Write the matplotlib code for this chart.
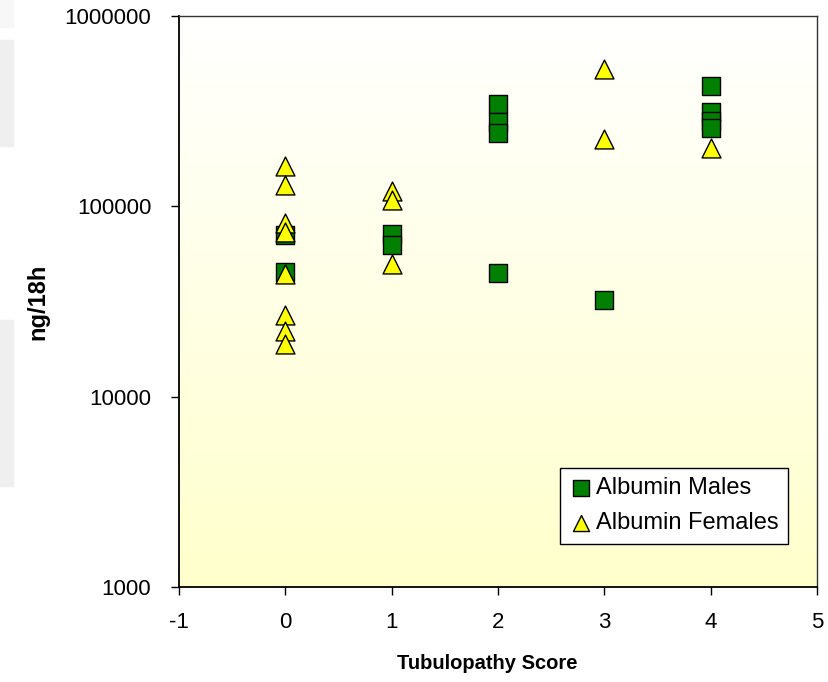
"""Albumin excretion vs tubulopathy score (log scale scatter)."""
import matplotlib
matplotlib.use("Agg")
import matplotlib.pyplot as plt
import numpy as np
from matplotlib import font_manager
from matplotlib.colors import LinearSegmentedColormap
from matplotlib.patches import Rectangle

plt.rcParams["font.family"] = ["Liberation Sans", "DejaVu Sans"]

# data
male_score = [0, 0, 1, 1, 2, 2, 2, 2, 3, 4, 4, 4, 4]
male_alb = [70700, 45200, 71500, 62600, 347000, 278500, 243600, 44900,
            32200, 429000, 314000, 281000, 259000]
female_score = [0, 0, 0, 0, 0, 0, 0, 0, 1, 1, 1, 3, 3, 4]
female_alb = [163000, 130000, 81700, 73300, 44300, 27000, 22100, 19000,
              120300, 108600, 50000, 527000, 225000, 203000]

xticks = [-1, 0, 1, 2, 3, 4, 5]
yticks = [1000, 10000, 100000, 1000000]

# condensed bold for the x label if there is one
names = {f.name for f in font_manager.fontManager.ttflist}
if "Liberation Sans Narrow" in names:
    xlab_font, xlab_size = ["Liberation Sans Narrow", "Liberation Sans"], 18
else:
    xlab_font, xlab_size = ["Liberation Sans"], 14.5

fig = plt.figure(figsize=(8.29, 6.82), dpi=100)
# faint grey slide shapes at left edge
H = 682.0
for top, bot, col in [(0, 27, "#f7f7f7"), (40, 146, "#efefef"), (320, 486, "#efefef")]:
    fig.patches.append(Rectangle((0, 1 - bot / H), 13 / 829, (bot - top) / H,
                                 transform=fig.transFigure, color=col, zorder=0))

ax = fig.add_axes([0.2159, 0.1393, 0.7696, 0.8372])
ax.set_yscale("log")
ax.set_xlim(-1, 5)
ax.set_ylim(1000, 1000000)

# white -> pale yellow gradient in the plot area
cmap = LinearSegmentedColormap.from_list("bg", ["#ffffcc", "#ffffff"])
grad = np.linspace(0, 1, 256).reshape(-1, 1)
ax.imshow(grad, cmap=cmap, aspect="auto", extent=[0, 1, 0, 1],
          transform=ax.transAxes, origin="lower", zorder=0)

ax.scatter(male_score, male_alb, marker="s", s=170, c="#007f00",
           edgecolors="black", linewidths=1.0, zorder=3, label="Albumin Males")
ax.scatter(female_score, female_alb, marker="^", s=185, c="#ffff00",
           edgecolors="black", linewidths=1.0, zorder=4, label="Albumin Females")

ax.set_xticks(xticks)
ax.set_xticklabels([str(t) for t in xticks])
ax.set_yticks(yticks)
ax.set_yticklabels([str(t) for t in yticks])
ax.yaxis.set_minor_locator(matplotlib.ticker.NullLocator())
ax.tick_params(direction="out", length=6, width=1, labelsize=16, colors="black")
ax.tick_params(axis="x", pad=12)
ax.tick_params(axis="y", pad=14)

for side in ["left", "bottom"]:
    ax.spines[side].set_linewidth(1.3)
    ax.spines[side].set_color("black")
for side in ["top", "right"]:
    ax.spines[side].set_linewidth(1.0)
    ax.spines[side].set_color("#333333")

ax.set_xlabel("Tubulopathy Score", fontsize=xlab_size, fontweight="bold",
              family=xlab_font)
ax.xaxis.set_label_coords(0.483, -0.118)
ax.set_ylabel("ng/18h", fontsize=17, fontweight="bold", labelpad=11)

leg = ax.legend(loc="lower right", bbox_to_anchor=(0.9545, 0.0755), fontsize=17,
                frameon=True, fancybox=False, framealpha=1, edgecolor="black",
                handletextpad=0.2, borderpad=0.4, labelspacing=0.55,
                handlelength=0.9, borderaxespad=0, markerscale=0.85)
leg.get_frame().set_linewidth(1.0)

fig.savefig("out.png", dpi=100)
